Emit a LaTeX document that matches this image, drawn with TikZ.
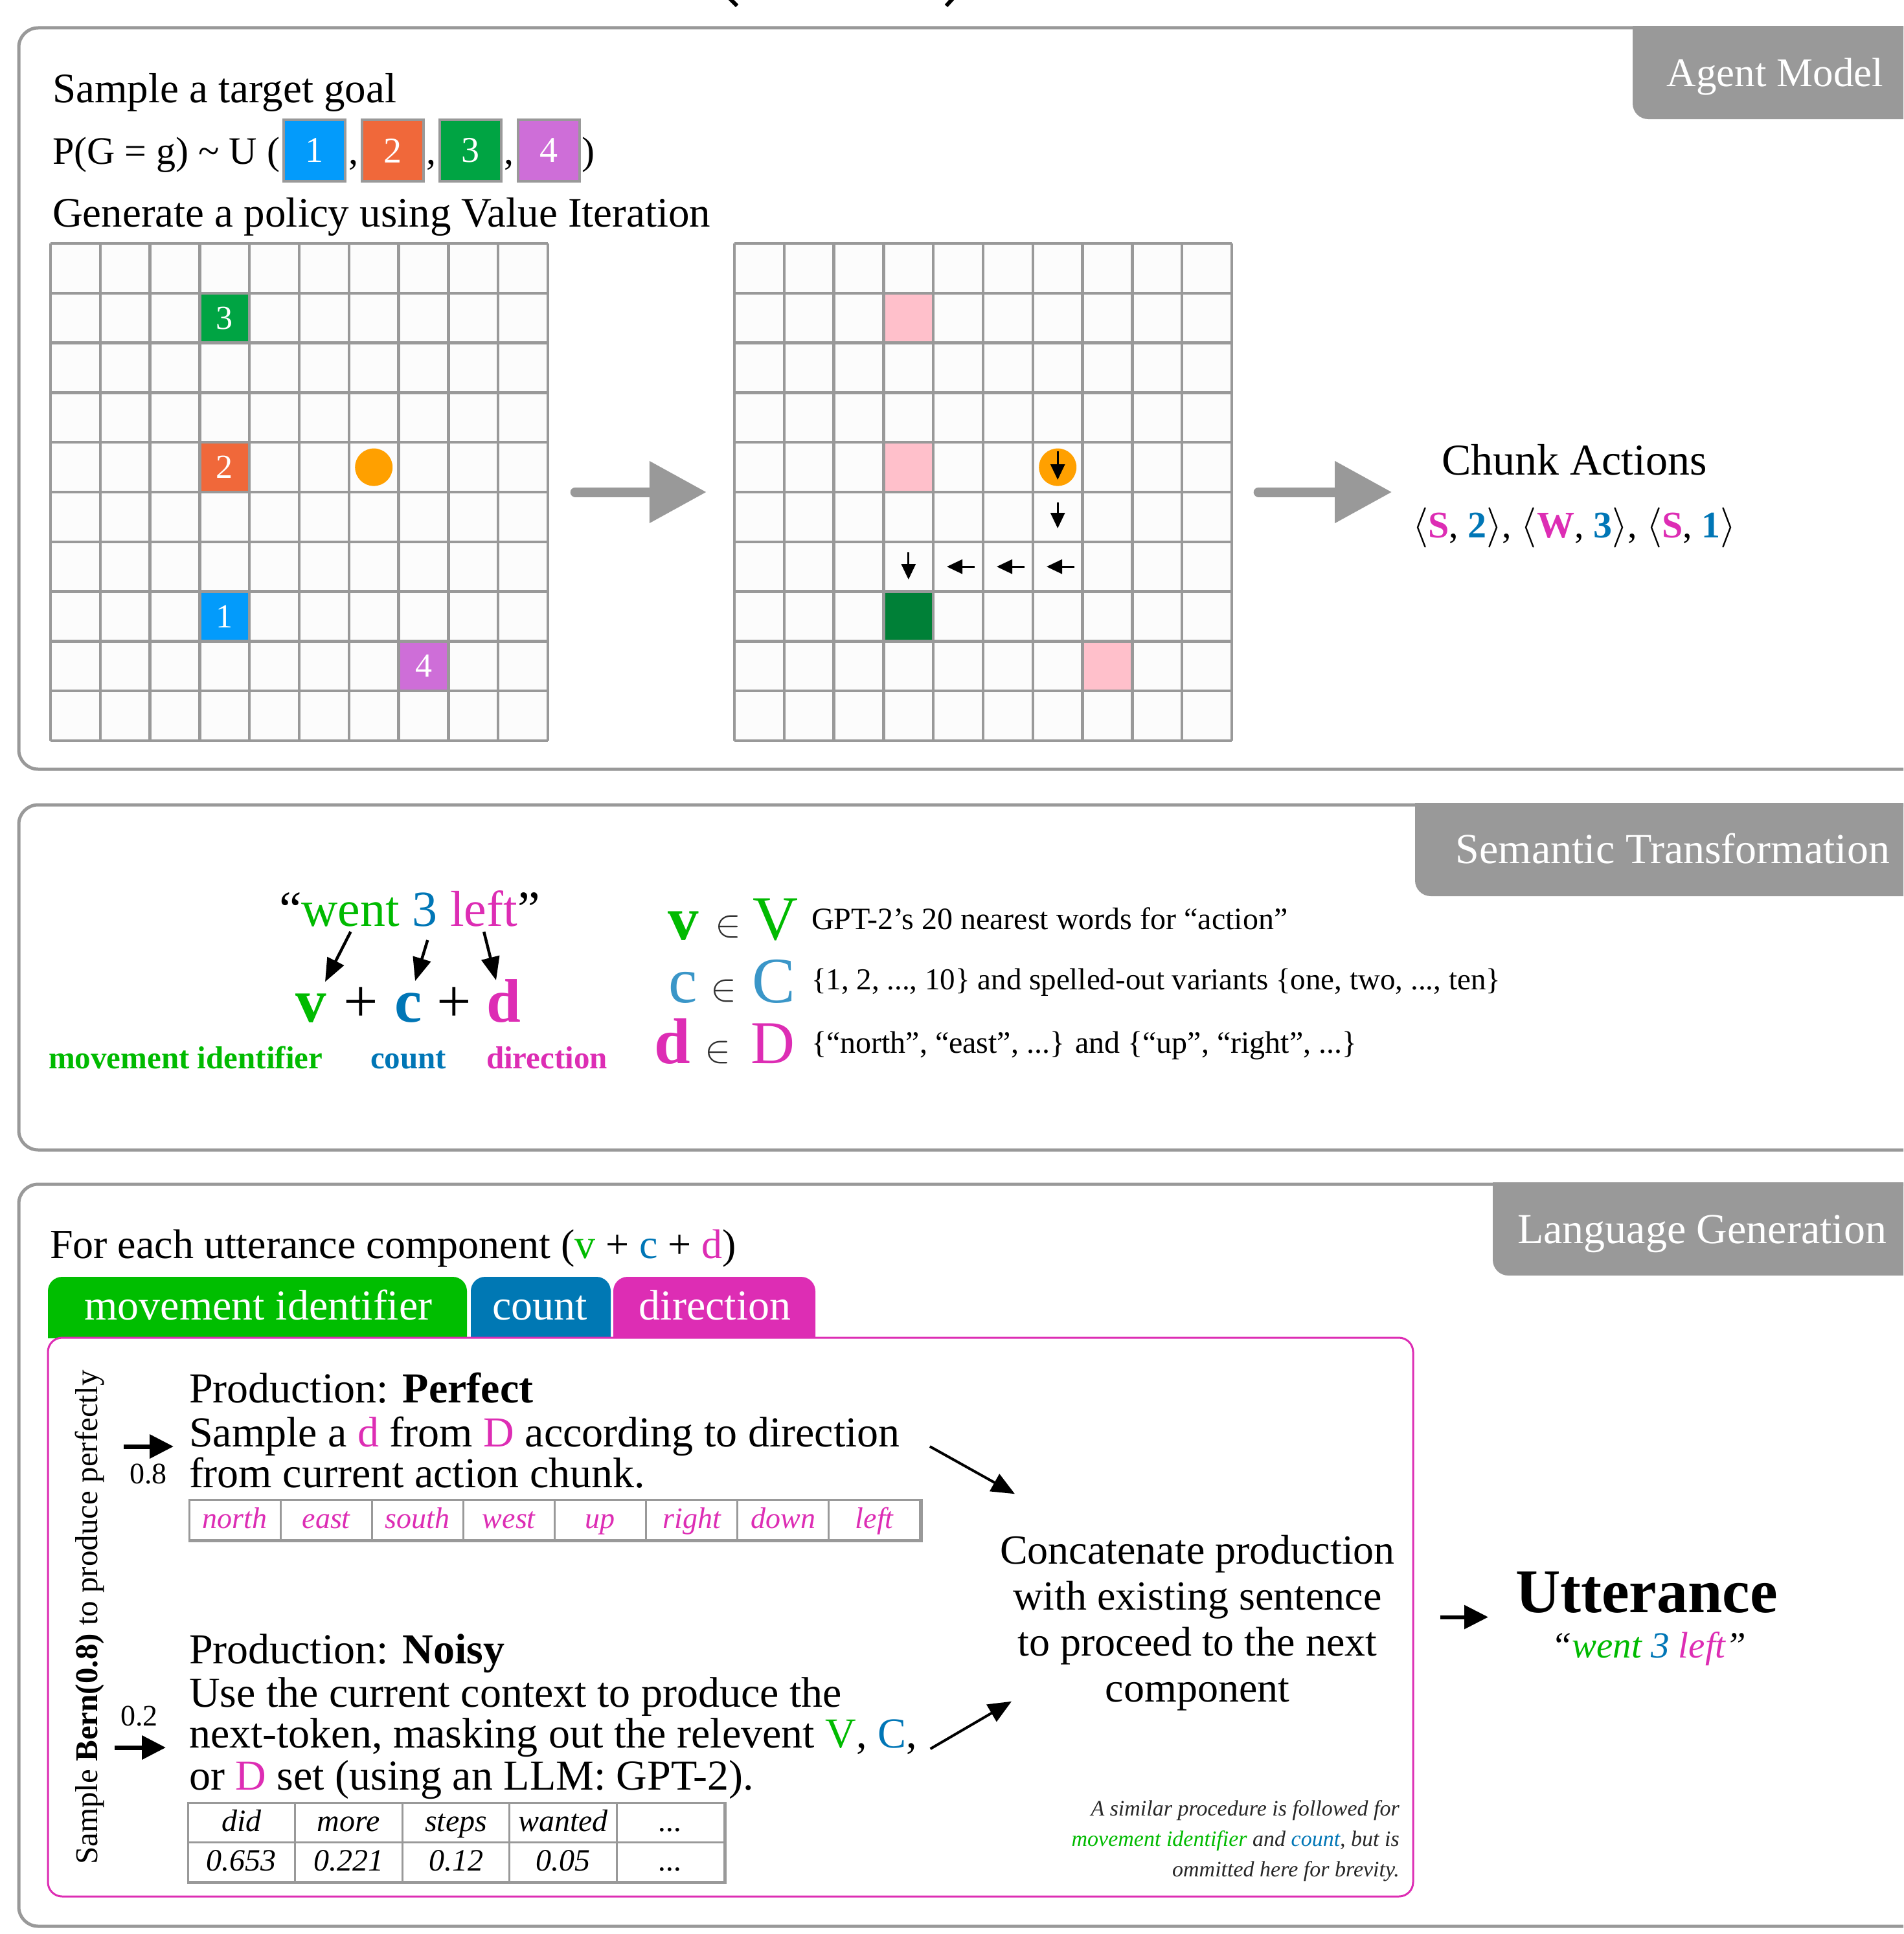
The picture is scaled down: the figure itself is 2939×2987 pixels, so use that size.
\documentclass[tikz,border=0pt]{standalone}
\usepackage{fontspec}
\setmainfont{Liberation Serif}
\usetikzlibrary{arrows.meta,calc}
\definecolor{pgray}{RGB}{153,153,153}
\definecolor{cellbg}{RGB}{252,252,252}
\definecolor{gA}{RGB}{3,155,251}
\definecolor{gB}{RGB}{240,104,58}
\definecolor{gC}{RGB}{0,164,67}
\definecolor{gD}{RGB}{206,110,216}
\definecolor{agentc}{RGB}{255,160,0}
\definecolor{pinkc}{RGB}{255,192,203}
\definecolor{dgreen}{RGB}{0,128,55}
\definecolor{mgreen}{RGB}{0,186,0}
\definecolor{cblue}{RGB}{0,118,182}
\definecolor{lblue}{RGB}{58,150,200}
\definecolor{dmag}{RGB}{221,45,180}
\definecolor{tgreen}{RGB}{0,190,0}
\definecolor{tblue}{RGB}{0,120,180}
\definecolor{darkg}{RGB}{50,50,50}
\definecolor{notec}{RGB}{40,40,40}
\newcommand{\myfs}[1]{\fontsize{#1}{#1}\selectfont}
\newcommand{\mylang}{\scalebox{6.2}{\fontsize{10}{12}\selectfont$\langle$}}
\newcommand{\myrang}{\scalebox{6.2}{\fontsize{10}{12}\selectfont$\rangle$}}
\newcommand{\myin}{\scalebox{6}{\fontsize{10}{12}\selectfont$\in$}}
\tikzset{
  txt/.style={inner sep=0pt, outer sep=0pt, anchor=base west},
  ctxt/.style={inner sep=0pt, outer sep=0pt, anchor=base},
  panel/.style={draw=pgray, line width=5pt, rounded corners=30pt, minimum width=2961pt, inner sep=0pt},
  cellline/.style={draw=pgray, line width=4.5pt},
  gbox/.style={draw=pgray, line width=4pt, minimum width=95pt, minimum height=95pt, inner sep=0pt, text=white, font=\myfs{56}},
  gdigit/.style={inner sep=0pt, text=white, font=\myfs{52}},
  bigarrow/.style={draw=pgray, line width=15pt, line cap=round, -{Triangle[length=88pt,width=92pt]}},
  parrow/.style={line width=3pt, -{Triangle[length=24pt,width=22pt]}},
  arrB/.style={line width=4.5pt, -{Triangle[length=36pt,width=28pt]}},
  arrC/.style={line width=7pt, -{Triangle[length=37pt,width=36pt]}},
  arrD/.style={line width=4pt, -{Triangle[length=36pt,width=30pt]}},
  tabtxt/.style={inner sep=0pt, anchor=base, text=white},
  dircell/.style={draw=pgray, line width=3pt, minimum width=141.1pt, minimum height=62pt, inner sep=0pt, text height=34pt, text depth=8pt, font=\itshape\myfs{46}, text=dmag},
  ntcell/.style={draw=pgray, line width=3pt, minimum width=165.6pt, minimum height=61pt, inner sep=0pt, text height=36pt, text depth=8pt, font=\itshape\myfs{48}}
}
\begin{document}
\begin{tikzpicture}[x=1pt,y=-1pt]
\useasboundingbox (0,0) rectangle (2939,2987);
\clip (0,0) rectangle (2939,2987);
\fill[white] (0,0) rectangle (2939,2987);
% remnants of title above
\draw[line width=6pt] (1127,-2) -- (1138,9);
\draw[line width=6pt] (1471,-2) -- (1461,9);

% panels
\node[panel, minimum height=1145pt] (p1) at (1509.5,615.5) {};
\node[panel, minimum height=533pt] (p2) at (1509.5,1509.5) {};
\node[panel, minimum height=1146pt] (p3) at (1509.5,2402) {};

% tabs
\begin{scope}
  \clip (0,40.5) rectangle (2939,600);
  \fill[pgray, rounded corners=24pt] (2521,0) rectangle (3000,184);
\end{scope}
\begin{scope}
  \clip (0,1240.5) rectangle (2939,1700);
  \fill[pgray, rounded corners=24pt] (2185,1200) rectangle (3000,1384);
\end{scope}
\begin{scope}
  \clip (0,1826.5) rectangle (2939,2300);
  \fill[pgray, rounded corners=24pt] (2305,1780) rectangle (3000,1970);
\end{scope}
\node[tabtxt, font=\myfs{63}] (tabA) at (2741,133) {Agent Model};
\node[tabtxt, font=\myfs{66}] (tabS) at (2583,1333) {Semantic Transformation};
\node[tabtxt, font=\myfs{66}] (tabL) at (2628,1920) {Language Generation};

% ---------------- Panel 1
\node[txt, font=\myfs{65}] (t1) at (81,158) {Sample a target goal};
\node[txt, font=\myfs{60}] (pg) at (81,253) {P(G = g) \textasciitilde{} U (};
\node[gbox, fill=gA] (b1) at (485.5,232.5) {1};
\node[gbox, fill=gB] (b2) at (606.5,232.5) {2};
\node[gbox, fill=gC] (b3) at (726,232.5) {3};
\node[gbox, fill=gD] (b4) at (847,232.5) {4};
\node[txt, font=\myfs{60}] (cm1) at (538,253) {,};
\node[txt, font=\myfs{60}] (cm2) at (658,253) {,};
\node[txt, font=\myfs{60}] (cm3) at (778,253) {,};
\node[txt, font=\myfs{60}] (cpar) at (898,253) {)};
\node[txt, font=\myfs{65}] (t2) at (81,350) {Generate a policy using Value Iteration};

% grid 1
\fill[cellbg] (78,376) rectangle (846,1144);
\fill[gC] ({78+3*76.8},{376+1*76.8}) rectangle ++(76.8,76.8);
\fill[gB] ({78+3*76.8},{376+4*76.8}) rectangle ++(76.8,76.8);
\fill[gA] ({78+3*76.8},{376+7*76.8}) rectangle ++(76.8,76.8);
\fill[gD] ({78+7*76.8},{376+8*76.8}) rectangle ++(76.8,76.8);
\foreach \k in {0,1,2,3,4,5,6,7,8,9,10} {
  \draw[cellline] ({78+\k*76.8},376) -- ({78+\k*76.8},1144);
  \draw[cellline] (78,{376+\k*76.8}) -- (846,{376+\k*76.8});
}
\node[inner sep=0pt, minimum size=768pt] (grid1) at (462,760) {};
\node[gdigit] (gd3) at (346.8,491.2) {3};
\node[gdigit] (gd2) at (346.8,721.6) {2};
\node[gdigit] (gd1) at (346.8,952) {1};
\node[gdigit] (gd4) at (654,1028.8) {4};
\node[circle, fill=agentc, minimum size=58pt, inner sep=0pt] (agent1) at (577.2,721.6) {};

% grid 2
\fill[cellbg] (1134,376) rectangle (1902,1144);
\fill[pinkc] ({1134+3*76.8},{376+1*76.8}) rectangle ++(76.8,76.8);
\fill[pinkc] ({1134+3*76.8},{376+4*76.8}) rectangle ++(76.8,76.8);
\fill[dgreen] ({1134+3*76.8},{376+7*76.8}) rectangle ++(76.8,76.8);
\fill[pinkc] ({1134+7*76.8},{376+8*76.8}) rectangle ++(76.8,76.8);
\foreach \k in {0,1,2,3,4,5,6,7,8,9,10} {
  \draw[cellline] ({1134+\k*76.8},376) -- ({1134+\k*76.8},1144);
  \draw[cellline] (1134,{376+\k*76.8}) -- (1902,{376+\k*76.8});
}
\node[inner sep=0pt, minimum size=768pt] (grid2) at (1518,760) {};
\node[circle, fill=agentc, minimum size=58pt, inner sep=0pt] (agent2) at (1633.2,721.6) {};
\draw[parrow] (1633.2,697) -- (1633.2,741);
\draw[parrow] (1633.2,776) -- (1633.2,816);
\draw[parrow] (1402.8,853) -- (1402.8,895);
\draw[parrow] (1505,875.2) -- (1462,875.2);
\draw[parrow] (1582,875.2) -- (1539,875.2);
\draw[parrow] (1659,875.2) -- (1616,875.2);

% chunk actions
\node[ctxt, font=\myfs{68}] (chunk) at (2431,733) {Chunk Actions};
\node[ctxt, font=\myfs{58}] (acts) at (2431,830) {\mylang\textcolor{dmag}{\textbf{S}}, \textcolor{cblue}{\textbf{2}}\myrang, \mylang\textcolor{dmag}{\textbf{W}}, \textcolor{cblue}{\textbf{3}}\myrang, \mylang\textcolor{dmag}{\textbf{S}}, \textcolor{cblue}{\textbf{1}}\myrang};

\draw[bigarrow] ([xshift=42pt]grid1.east) -- ([xshift=-43pt]grid2.west);
\draw[bigarrow] ([xshift=41pt]grid2.east) -- ([xshift=247pt]grid2.east);

% ---------------- Panel 2
\node[txt, font=\myfs{78}] (q1) at (431,1430) {``};
\node[txt, font=\myfs{78}, text=mgreen] (went) at (q1.base east) {went};
\node[txt, font=\myfs{78}, text=cblue] (three) at ([xshift=19.5pt]went.base east) {3};
\node[txt, font=\myfs{78}, text=dmag] (left) at ([xshift=19.5pt]three.base east) {left};
\node[txt, font=\myfs{78}] (q2) at (left.base east) {''};

\node[ctxt, font=\bfseries\myfs{95}, text=mgreen] (v) at (480,1578) {v};
\node[ctxt, font=\myfs{95}] (plus1) at (557,1578) {+};
\node[ctxt, font=\bfseries\myfs{95}, text=cblue] (c) at (631,1578) {c};
\node[ctxt, font=\myfs{95}] (plus2) at (701,1578) {+};
\node[ctxt, font=\bfseries\myfs{95}, text=dmag] (d) at (778,1578) {d};

\draw[arrB] ([yshift=-9pt]went.base) -- ([xshift=22pt,yshift=18pt]v.north);
\draw[arrB] ([xshift=4pt,yshift=-22pt]three.base) -- ([xshift=10pt,yshift=18pt]c.north);
\draw[arrB] ([yshift=-9pt]left.base) -- ([xshift=-12pt,yshift=-2pt]d.north);

\node[txt, font=\bfseries\myfs{49}, text=mgreen] (lmov) at (75,1650) {movement identifier};
\node[txt, font=\bfseries\myfs{49}, text=cblue] (lcnt) at (572,1650) {count};
\node[txt, font=\bfseries\myfs{49}, text=dmag] (ldir) at (751,1650) {direction};

\node[ctxt, font=\bfseries\myfs{95}, text=mgreen] (rv) at (1055,1451) {v};
\node[ctxt, text=darkg] (in1) at (1124,1446) {\myin};
\node[ctxt, font=\myfs{97}, text=mgreen] (rV) at (1198,1451) {V};
\node[txt, font=\myfs{48}] (rt1) at (1253,1435) {GPT-2's 20 nearest words for ``action''};

\node[ctxt, font=\myfs{100}, text=lblue] (rc) at (1055,1548) {c};
\node[ctxt, text=darkg] (in2) at (1117,1545) {\myin};
\node[ctxt, font=\myfs{100}, text=lblue] (rC) at (1195,1548) {C};
\node[txt, font=\myfs{47}] (rt2) at (1253,1528) {\{1, 2, ..., 10\} and spelled-out variants \{one, two, ..., ten\}};

\node[ctxt, font=\bfseries\myfs{100}, text=dmag] (rd) at (1038,1642) {d};
\node[ctxt, text=darkg] (in3) at (1108,1640) {\myin};
\node[ctxt, font=\myfs{94}, text=dmag] (rD) at (1193,1642) {D};
\node[txt, font=\myfs{48}] (rt3) at (1253,1626) {\{``north'', ``east'', ...\} and \{``up'', ``right'', ...\}};

% ---------------- Panel 3
\node[txt, font=\myfs{64}] (foreach) at (77,1943) {For each utterance component (\textcolor{mgreen}{v} + \textcolor{cblue}{c} + \textcolor{dmag}{d})};

\begin{scope}
  \clip (0,1900) rectangle (2939,2066);
  \fill[tgreen, rounded corners=22pt] (74,1972) rectangle (721,2120);
  \fill[tblue, rounded corners=22pt] (727,1972) rectangle (943,2120);
  \fill[dmag, rounded corners=22pt] (947,1972) rectangle (1259,2120);
\end{scope}
\node[tabtxt, font=\myfs{66}] (tmov) at (399,2038) {movement identifier};
\node[tabtxt, font=\myfs{66}] (tcnt) at (834,2038) {count};
\node[tabtxt, font=\myfs{66}] (tdir) at (1104,2038) {direction};

\node[draw=dmag, line width=3pt, rounded corners=22pt, minimum width=2108pt, minimum height=863pt, inner sep=0pt] (lgbox) at (1128,2497.5) {};

\node[rotate=90, font=\myfs{49}, inner sep=0pt] (bern) at (139,2498) {Sample \textbf{Bern(0.8)} to produce perfectly};

\node[txt, font=\myfs{66}] (perf1) at (292,2166) {Production: \textbf{Perfect}};
\node[txt, font=\myfs{66}] (perf2) at (292,2234) {Sample a \textcolor{dmag}{d} from \textcolor{dmag}{D} according to direction};
\node[txt, font=\myfs{66}] (perf3) at (292,2297) {from current action chunk.};

\draw[arrC] ([xshift=-101pt]perf2.base west) -- ([xshift=-24pt]perf2.base west);
\node[ctxt, font=\myfs{46}] (p08) at (229,2291) {0.8};

\node[dircell] (dir0) at ({292+70.55+141.1*0},2347) {north};
\node[dircell] (dir1) at ({292+70.55+141.1*1},2347) {east};
\node[dircell] (dir2) at ({292+70.55+141.1*2},2347) {south};
\node[dircell] (dir3) at ({292+70.55+141.1*3},2347) {west};
\node[dircell] (dir4) at ({292+70.55+141.1*4},2347) {up};
\node[dircell] (dir5) at ({292+70.55+141.1*5},2347) {right};
\node[dircell] (dir6) at ({292+70.55+141.1*6},2347) {down};
\node[dircell] (dir7) at ({292+70.55+141.1*7},2347) {left};
\draw[pgray, line width=5pt] (dir0.south west) -- (dir7.south east) -- (dir7.north east);

\node[txt, font=\myfs{66}] (noisy1) at (292,2569) {Production: \textbf{Noisy}};
\node[txt, font=\myfs{66}] (noisy2) at (292,2636) {Use the current context to produce the};
\node[txt, font=\myfs{66}] (noisy3) at (292,2699) {next-token, masking out the relevent \textcolor{mgreen}{V}, \textcolor{cblue}{C},};
\node[txt, font=\myfs{66}] (noisy4) at (292,2764) {or \textcolor{dmag}{D} set (using an LLM: GPT-2).};

\draw[arrC] ([xshift=-115pt]noisy3.base west) -- ([xshift=-36pt]noisy3.base west);
\node[ctxt, font=\myfs{46}] (p02) at (215,2665) {0.2};

\node[ntcell] (ntw0) at ({290+82.8+165.6*0},2814.5) {did};
\node[ntcell] (ntw1) at ({290+82.8+165.6*1},2814.5) {more};
\node[ntcell] (ntw2) at ({290+82.8+165.6*2},2814.5) {steps};
\node[ntcell] (ntw3) at ({290+82.8+165.6*3},2814.5) {wanted};
\node[ntcell] (ntw4) at ({290+82.8+165.6*4},2814.5) {...};
\node[ntcell] (ntp0) at ({290+82.8+165.6*0},2875.5) {0.653};
\node[ntcell] (ntp1) at ({290+82.8+165.6*1},2875.5) {0.221};
\node[ntcell] (ntp2) at ({290+82.8+165.6*2},2875.5) {0.12};
\node[ntcell] (ntp3) at ({290+82.8+165.6*3},2875.5) {0.05};
\node[ntcell] (ntp4) at ({290+82.8+165.6*4},2875.5) {...};
\draw[pgray, line width=5pt] (ntp0.south west) -- (ntp4.south east) -- (ntw4.north east);

\node[font=\fontsize{64}{71}\selectfont, align=center, inner sep=0pt] (concat) at (1849,2507) {Concatenate production\\with existing sentence\\to proceed to the next\\component};

\draw[arrD] ([xshift=46pt]perf2.base east) -- ([xshift=23pt,yshift=64pt]concat.north west);
\draw[arrD] ([xshift=21pt,yshift=-2pt]noisy3.base east) -- ([xshift=18pt,yshift=15pt]concat.south west);

\node[font=\itshape\fontsize{34}{47}\selectfont, text=notec, align=right, anchor=east, inner sep=0pt] (note) at (2161,2843) {A similar procedure is followed for\\\textcolor{mgreen}{movement identifier} and \textcolor{cblue}{count}, but is\\ommitted here for brevity.};

\node[txt, font=\bfseries\myfs{96}] (utt) at (2340,2490) {Utterance};
\node[ctxt, font=\itshape\myfs{57}] (uttq) at (2546,2560) {``\textcolor{mgreen}{went} \textcolor{cblue}{3} \textcolor{dmag}{left}''};
\draw[arrC, line width=6pt] ([xshift=40pt]lgbox.east) -- ($(utt.west |- lgbox.east)+(-42,0)$);
\end{tikzpicture}
\end{document}
